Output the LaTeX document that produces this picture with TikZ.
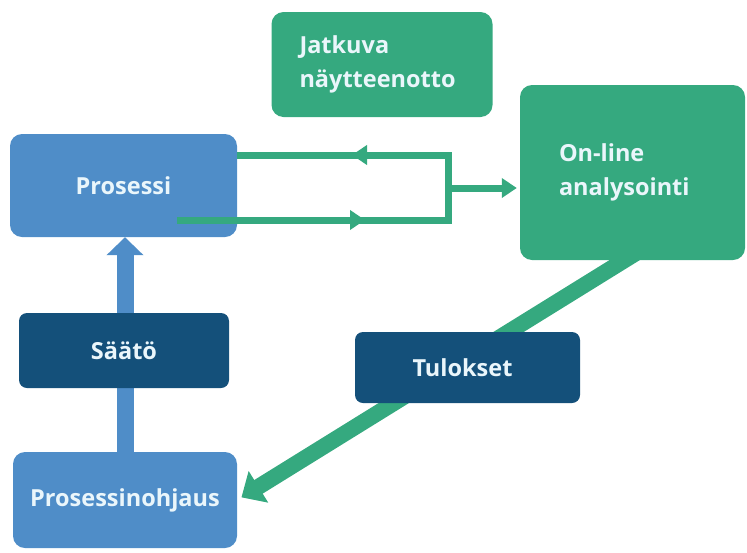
\documentclass[tikz,border=0pt]{standalone}
\usepackage{fontspec}
\setmainfont{Open Sans}
\usetikzlibrary{arrows.meta}

\definecolor{procblue}{HTML}{4F8DC8}
\definecolor{flowgreen}{HTML}{35A97F}
\definecolor{deepblue}{HTML}{14507A}
\definecolor{labeltext}{HTML}{EAF6FB}

\begin{document}
\begin{tikzpicture}[x=1pt,y=-1pt,
  boxbase/.style={rectangle, rounded corners=12pt, inner sep=0pt, text=labeltext,
    font=\bfseries\fontsize{23.5}{34}\selectfont},
  bluebox/.style={boxbase, fill=procblue},
  greenbox/.style={boxbase, fill=flowgreen},
  darkbox/.style={boxbase, fill=deepblue, rounded corners=8pt},
  feed/.style={draw=flowgreen, line width=7pt, line join=miter},
  feedtip/.style={-{Triangle[length=15pt,width=19pt]}},
]
\useasboundingbox (0,0) rectangle (747,552);

% main boxes
\node[bluebox, minimum width=227pt, minimum height=103pt] (proc) at (123.5,185.5) {Prosessi};
\node[bluebox, minimum width=224pt, minimum height=96pt] (proh) at (125,500) {Prosessinohjaus};
\node[greenbox, minimum width=221pt, minimum height=105pt, text width=165pt, align=left]
  (sample) at (382,64.5) {Jatkuva\\näytteenotto};
\node[greenbox, minimum width=225pt, minimum height=175pt, text width=147pt, align=left]
  (online) at (632.5,172.5) {\raisebox{-7pt}{\parbox{147pt}{On-line\\analysointi}}};

% control path: process control back to the process
\draw[procblue, line width=17pt, -{Triangle[length=18pt,width=36pt]}]
  (proh.north) -- (proh.north |- proc.south);

% results path: analysis back to process control
\coordinate (tail) at (649,245);
\draw[flowgreen, line width=16pt, shorten >=5pt, -{Triangle[length=20pt,width=36pt]}]
  (tail) -- (proh.east);

% sampling loop between the process and the analyser
\coordinate (ltop) at (proc.east |- 0,155);
\coordinate (lbot) at (177,220);
\coordinate (jtop) at (448,155);
\coordinate (jmid) at (448,188);
\coordinate (jbot) at (448,220);
\coordinate (atop) at (352,155);
\coordinate (abot) at (365,220);
\draw[feed] (ltop) -- (jtop) -- (jbot) -- (lbot);
\draw[feed, feedtip] (jtop) -- (atop);
\draw[feed, feedtip] (lbot) -- (abot);
\draw[feed, feedtip, shorten >=3pt] (jmid) -- (online.west |- jmid);

% labels sitting on the arrows
\node[darkbox, minimum width=210pt, minimum height=75pt] (saato) at (124,350.5) {Säätö};
\node[darkbox, minimum width=225pt, minimum height=71pt] (tulos) at (467.5,367.5) {\hspace*{-10pt}Tulokset};
\end{tikzpicture}
\end{document}
